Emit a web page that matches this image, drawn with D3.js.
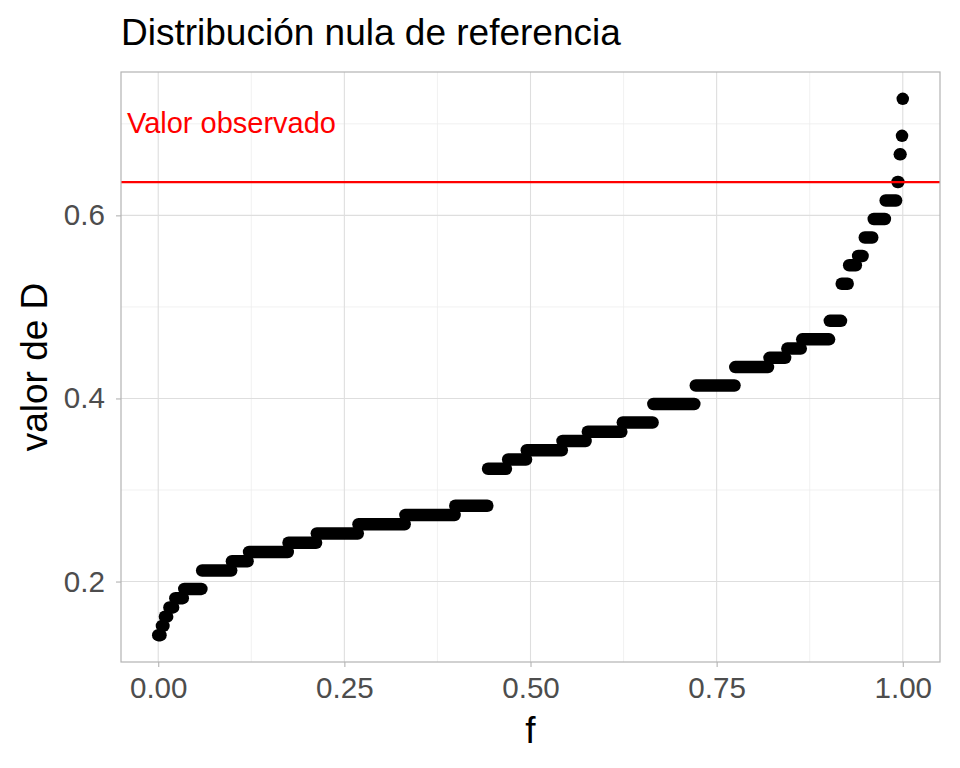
<!DOCTYPE html>
<html>
<head>
<meta charset="utf-8">
<script src="https://cdn.jsdelivr.net/npm/d3@7"></script>
<style>
  body { margin: 0; background: #fff; }
  svg { display: block; font-family: "Liberation Sans", Arial, sans-serif; }
</style>
</head>
<body>
<svg id="chart" width="960" height="768"></svg>
<script>
// D levels (step values of the null distribution)
const dLevels = [0.1414, 0.1515, 0.1616, 0.1717, 0.1818, 0.1919, 0.2121, 0.2222, 0.2323, 0.2424,
  0.2525, 0.2626, 0.2727, 0.2828, 0.3232, 0.3333, 0.3434, 0.3535, 0.3636, 0.3737,
  0.3939, 0.4141, 0.4343, 0.4444, 0.4545, 0.4646, 0.4848, 0.5253, 0.5455, 0.5556,
  0.5758, 0.5960, 0.6162, 0.6364, 0.6667, 0.6869, 0.7273];
// fraction where each level's run of points starts
const fStart = [0.000, 0.005, 0.009, 0.015, 0.023, 0.035, 0.059, 0.099, 0.122, 0.175,
  0.213, 0.269, 0.332, 0.399, 0.443, 0.470, 0.495, 0.543, 0.577, 0.624,
  0.665, 0.722, 0.775, 0.821, 0.845, 0.865, 0.902, 0.918, 0.928, 0.940,
  0.949, 0.961, 0.977, 0.993, 0.996, 0.999, 1.000];
// fraction where each level's run of points ends
const fEnd = [0.003, 0.007, 0.012, 0.020, 0.033, 0.058, 0.098, 0.120, 0.174, 0.212,
  0.268, 0.331, 0.398, 0.442, 0.467, 0.494, 0.542, 0.574, 0.622, 0.664,
  0.720, 0.774, 0.819, 0.842, 0.863, 0.901, 0.917, 0.926, 0.937, 0.946,
  0.959, 0.976, 0.991, 0.994, 0.997, 0.999, 1.000];
const observedD = 0.6364;
const xTicks = [0, 0.25, 0.5, 0.75, 1];
const xMinor = [0.125, 0.375, 0.625, 0.875];
const yTicks = [0.2, 0.4, 0.6];
const yMinor = [0.3, 0.5, 0.7];
const titleText = "Distribución nula de referencia";
const xLabel = "f";
const yLabel = "valor de D";
const annotText = "Valor observado";
const annotX = -0.042, annotY = 0.70;

const svg = d3.select("#chart");
const P = { left: 121, right: 940, top: 72, bottom: 662 };

const fMin = 0, fMax = 1;
const fPad = (fMax - fMin) * 0.05;
const x = d3.scaleLinear().domain([fMin - fPad, fMax + fPad]).range([P.left, P.right]);
const dMin = d3.min(dLevels), dMax = d3.max(dLevels);
const dPad = (dMax - dMin) * 0.05;
const y = d3.scaleLinear().domain([dMin - dPad, dMax + dPad]).range([P.bottom, P.top]);

const g = svg.append("g");

// minor grid
g.selectAll(".xminor").data(xMinor).enter().append("line")
  .attr("x1", d => x(d)).attr("x2", d => x(d)).attr("y1", P.top).attr("y2", P.bottom)
  .attr("stroke", "#ededed").attr("stroke-width", 0.8);
g.selectAll(".yminor").data(yMinor).enter().append("line")
  .attr("y1", d => y(d)).attr("y2", d => y(d)).attr("x1", P.left).attr("x2", P.right)
  .attr("stroke", "#ededed").attr("stroke-width", 0.8);
// major grid
g.selectAll(".xmajor").data(xTicks).enter().append("line")
  .attr("x1", d => x(d)).attr("x2", d => x(d)).attr("y1", P.top).attr("y2", P.bottom)
  .attr("stroke", "#dedede").attr("stroke-width", 1.1);
g.selectAll(".ymajor").data(yTicks).enter().append("line")
  .attr("y1", d => y(d)).attr("y2", d => y(d)).attr("x1", P.left).attr("x2", P.right)
  .attr("stroke", "#dedede").attr("stroke-width", 1.1);

// points (runs of points at each level)
const line = d3.line().x(d => x(d[0])).y(d => y(d[1]));
g.selectAll(".run").data(dLevels).enter().append("path")
  .attr("d", (d, i) => line([[fStart[i], d], [fEnd[i], d]]))
  .attr("stroke", "#000").attr("stroke-width", 12.5)
  .attr("stroke-linecap", "round").attr("fill", "none");

// observed line
g.append("line")
  .attr("x1", P.left).attr("x2", P.right)
  .attr("y1", y(observedD)).attr("y2", y(observedD))
  .attr("stroke", "#ff0000").attr("stroke-width", 2.2);

// annotation
g.append("text").attr("x", x(annotX)).attr("y", y(annotY))
  .attr("dy", "0.3em").attr("fill", "#ff0000").attr("font-size", 29)
  .text(annotText);

// panel border
g.append("rect").attr("x", P.left).attr("y", P.top)
  .attr("width", P.right - P.left).attr("height", P.bottom - P.top)
  .attr("fill", "none").attr("stroke", "#b3b3b3").attr("stroke-width", 1.2);

// axes
const xAxis = d3.axisBottom(x).tickValues(xTicks).tickFormat(d3.format(".2f")).tickSize(5).tickPadding(13);
const yAxis = d3.axisLeft(y).tickValues(yTicks).tickFormat(d3.format(".1f")).tickSize(5).tickPadding(11);
const xg = svg.append("g").attr("transform", `translate(0,${P.bottom})`).call(xAxis);
const yg = svg.append("g").attr("transform", `translate(${P.left},0)`).call(yAxis);
[xg, yg].forEach(a => {
  a.select(".domain").remove();
  a.selectAll(".tick line").attr("stroke", "#b3b3b3").attr("stroke-width", 1.1);
  a.selectAll(".tick text").attr("fill", "#4d4d4d").attr("font-size", 29.6)
    .attr("font-family", "Liberation Sans, Arial, sans-serif");
});
xg.selectAll(".tick text").attr("dy", "0.6em");

// titles
svg.append("text").attr("x", P.left).attr("y", 45).attr("font-size", 37).attr("fill", "#000")
  .text(titleText);
svg.append("text").attr("x", (P.left + P.right) / 2).attr("y", 743).attr("text-anchor", "middle")
  .attr("font-size", 37).attr("fill", "#000").text(xLabel);
svg.append("text").attr("transform", `translate(47,${(P.top + P.bottom) / 2}) rotate(-90)`)
  .attr("text-anchor", "middle").attr("font-size", 37).attr("fill", "#000").text(yLabel);
</script>
</body>
</html>
